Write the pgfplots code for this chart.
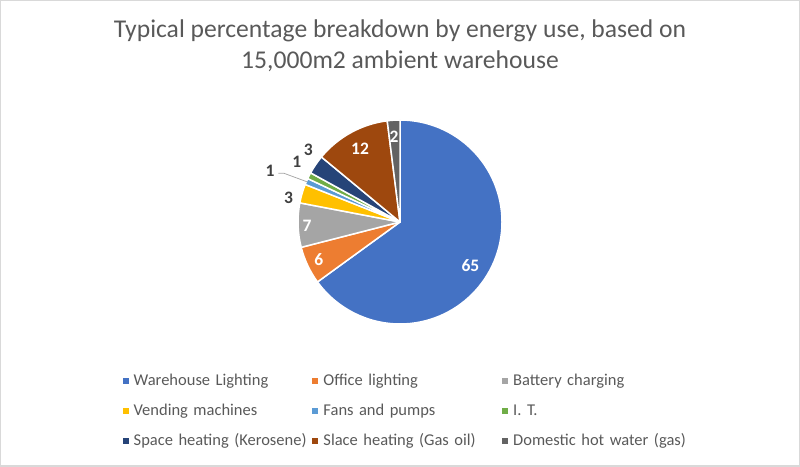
\documentclass[border=0pt]{standalone}
\usepackage{pgfplots}
\usepackage{pgfplotstable}
\pgfplotsset{compat=1.18}
\usepackage{fontspec}
\setmainfont{Carlito}

\definecolor{c1}{HTML}{4472C4}
\definecolor{c2}{HTML}{ED7D31}
\definecolor{c3}{HTML}{A5A5A5}
\definecolor{c4}{HTML}{FFC000}
\definecolor{c5}{HTML}{5B9BD5}
\definecolor{c6}{HTML}{70AD47}
\definecolor{c7}{HTML}{264478}
\definecolor{c8}{HTML}{9E480E}
\definecolor{c9}{HTML}{636363}
\definecolor{txt}{HTML}{595959}
\definecolor{lbld}{HTML}{404040}
\definecolor{lblw}{HTML}{FFFFFF}
\definecolor{leadc}{HTML}{A6A6A6}
\definecolor{framec}{HTML}{D9D9D9}

\newcommand\lblfont{\fontsize{17.5bp}{17.5bp}\selectfont\bfseries}

\pgfplotstableread[col sep=semicolon]{
name;value;col;la;lr;lc;lead
Warehouse Lighting;65;c1;-31.9;83;lblw;0
Office lighting;6;c2;205;89.5;lblw;0
Battery charging;7;c3;182.5;93;lblw;0
Vending machines;3;c4;168;114;lbld;0
Fans and pumps;1;c5;158.6;139.6;lbld;1
I. T.;1;c6;149.7;119.6;lbld;0
Space heating (Kerosene);3;c7;141.9;116.6;lbld;0
Slace heating (Gas oil);12;c8;118.8;83;lblw;0
Domestic hot water (gas);2;c9;94;85.5;lblw;0
}\piedata

\begin{document}
\begin{tikzpicture}
\begin{axis}[
  x=1bp, y=1bp,
  xmin=0, xmax=800, ymin=0, ymax=467,
  hide axis, clip=false,
  legend columns=3,
  legend cell align=left,
  legend style={
    at={(axis cs:122.5,101)}, anchor=north west,
    draw=none, fill=none, inner sep=0pt,
    column sep=0pt, row sep=0pt,
    nodes={inner sep=0pt, text width=178.75bp, minimum height=30bp,
      text height=11.5bp, text depth=3.5bp, align=left,
      font=\fontsize{16.5bp}{19bp}\selectfont, text=txt},
  },
  legend image code/.code={
    \fill[#1, draw=none] (0bp,-3bp) rectangle (6bp,3bp);
    \path[draw=none, fill=none] (0bp,0bp) -- (11bp,0bp);
  },
]
\draw[framec, line width=1.5bp] (axis cs:0.75,0.75) rectangle (axis cs:799.25,466.25);
\node[anchor=base, text=txt, font=\fontsize{25.6bp}{30bp}\selectfont]
  at (axis cs:400,429.3) {Typical percentage breakdown by energy use, based on};
\node[anchor=base, text=txt, font=\fontsize{25.6bp}{30bp}\selectfont]
  at (axis cs:400,398.7) {15,000m2 ambient warehouse};

\def\PieCum{0}
\pgfplotsforeachungrouped \i in {0,...,8}{%
  \pgfplotstablegetelem{\i}{value}\of\piedata\let\PieVal\pgfplotsretval
  \pgfplotstablegetelem{\i}{col}\of\piedata\let\PieCol\pgfplotsretval
  \pgfplotstablegetelem{\i}{name}\of\piedata\let\PieName\pgfplotsretval
  \pgfmathsetmacro\PieA{90-3.6*\PieCum}
  \pgfmathsetmacro\PieB{90-3.6*(\PieCum+\PieVal)}
  \pgfmathsetmacro\PieSx{400+102*cos(\PieA)}
  \pgfmathsetmacro\PieSy{245+102*sin(\PieA)}
  \edef\PieTemp{%
    \noexpand\fill[\PieCol, draw=white, line width=1.5bp, line join=round]
      (axis cs:400,245) -- (axis cs:\PieSx,\PieSy)
      arc[start angle=\PieA, end angle=\PieB, radius=102bp] -- cycle;
    \noexpand\addlegendimage{\PieCol}
    \noexpand\addlegendentry{\PieName}
  }%
  \PieTemp
  \pgfmathsetmacro\PieCum{\PieCum+\PieVal}
}
\pgfplotsforeachungrouped \i in {0,...,8}{%
  \pgfplotstablegetelem{\i}{value}\of\piedata\let\PieVal\pgfplotsretval
  \pgfplotstablegetelem{\i}{la}\of\piedata\let\PieLA\pgfplotsretval
  \pgfplotstablegetelem{\i}{lr}\of\piedata\let\PieLR\pgfplotsretval
  \pgfplotstablegetelem{\i}{lc}\of\piedata\let\PieLC\pgfplotsretval
  \pgfmathsetmacro\PieLx{400+\PieLR*cos(\PieLA)}
  \pgfmathsetmacro\PieLy{245+\PieLR*sin(\PieLA)}
  \edef\PieTemp{%
    \noexpand\node[text=\PieLC, font=\noexpand\lblfont, inner sep=0pt]
      at (axis cs:\PieLx,\PieLy) {\PieVal};
  }%
  \PieTemp
}
% leader line for the "Fans and pumps" label
\draw[leadc, line width=0.75bp]
  (axis cs:278.3,293.7) -- (axis cs:284,293.7) -- (axis cs:307.3,285.1);
\end{axis}
\end{tikzpicture}
\end{document}
